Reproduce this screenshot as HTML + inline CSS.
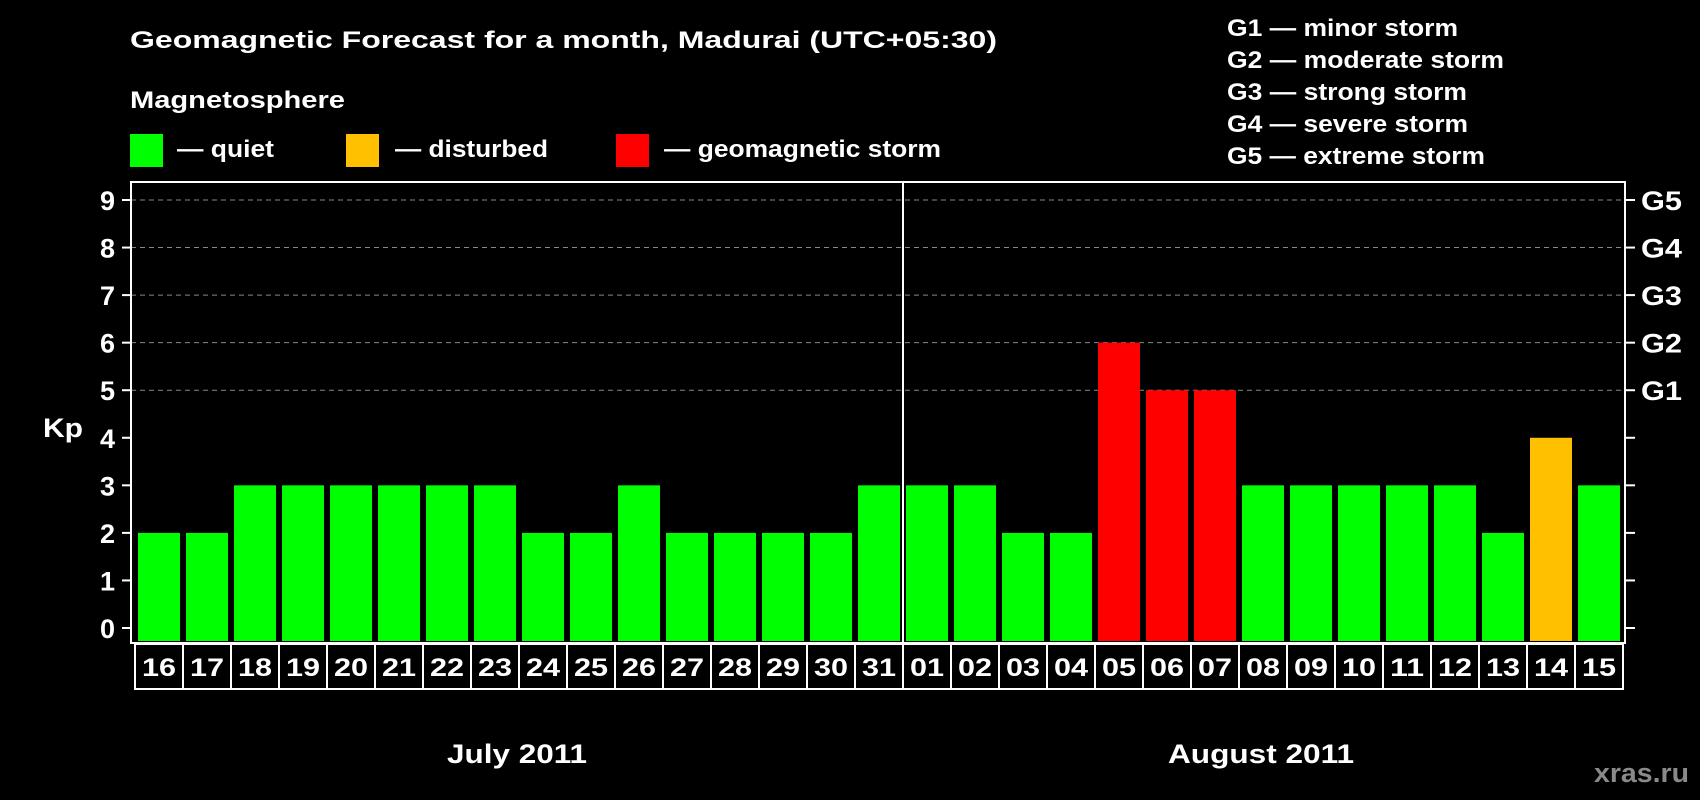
<!DOCTYPE html>
<html><head><meta charset="utf-8"><style>
html,body{margin:0;padding:0;background:#000;}
svg{display:block;}
text{font-family:"Liberation Sans",Arial,sans-serif;font-weight:bold;}
</style></head><body>
<svg id="chart" width="1700" height="800" viewBox="0 0 1700 800">
<text x="130" y="48" fill="#fff" font-size="24" textLength="867" lengthAdjust="spacingAndGlyphs">Geomagnetic Forecast for a month, Madurai (UTC+05:30)</text>
<text x="130" y="108" fill="#fff" font-size="24" textLength="215" lengthAdjust="spacingAndGlyphs">Magnetosphere</text>
<rect x="130" y="134" width="33" height="33" fill="#00ff00"/>
<text x="177" y="157" fill="#fff" font-size="24" textLength="97" lengthAdjust="spacingAndGlyphs">— quiet</text>
<rect x="346" y="134" width="33" height="33" fill="#ffc000"/>
<text x="395" y="157" fill="#fff" font-size="24" textLength="153" lengthAdjust="spacingAndGlyphs">— disturbed</text>
<rect x="616" y="134" width="33" height="33" fill="#ff0000"/>
<text x="664" y="157" fill="#fff" font-size="24" textLength="277" lengthAdjust="spacingAndGlyphs">— geomagnetic storm</text>
<g font-size="24" fill="#fff">
<text x="1227" y="36" textLength="231" lengthAdjust="spacingAndGlyphs">G1 — minor storm</text>
<text x="1227" y="68" textLength="277" lengthAdjust="spacingAndGlyphs">G2 — moderate storm</text>
<text x="1227" y="100" textLength="240" lengthAdjust="spacingAndGlyphs">G3 — strong storm</text>
<text x="1227" y="132" textLength="241" lengthAdjust="spacingAndGlyphs">G4 — severe storm</text>
<text x="1227" y="164" textLength="258" lengthAdjust="spacingAndGlyphs">G5 — extreme storm</text>
</g>
<text x="43" y="437" fill="#fff" font-size="27" textLength="40" lengthAdjust="spacingAndGlyphs">Kp</text>
<g id="grid"></g>
<g id="bars"></g>
<g id="axes"></g>
<text x="447" y="763" fill="#fff" font-size="27" textLength="140" lengthAdjust="spacingAndGlyphs">July 2011</text>
<text x="1168" y="763" fill="#fff" font-size="27" textLength="186" lengthAdjust="spacingAndGlyphs">August 2011</text>
<text x="1594" y="782" fill="#8a8a8a" font-size="27" textLength="95" lengthAdjust="spacingAndGlyphs">xras.ru</text>
</svg>
<script>
const days = ["16","17","18","19","20","21","22","23","24","25","26","27","28","29","30","31","01","02","03","04","05","06","07","08","09","10","11","12","13","14","15"];
const kp = [2,2,3,3,3,3,3,3,2,2,3,2,2,2,2,3,3,3,2,2,6,5,5,3,3,3,3,3,2,4,3];
const yTicks = [0,1,2,3,4,5,6,7,8,9];
const gLabels = ["G1","G2","G3","G4","G5"];
const gLevels = [5,6,7,8,9];

const NS="http://www.w3.org/2000/svg";
const pLeft=131, pRight=1625, pTop=182, pBottom=643;
const cellX0=135, cellW=(1623-135)/days.length;
function yS(v){return 628-(628-200)/9*v;}
function xS(i){return cellX0+i*cellW;}
function mk(tag,attrs,parent){const e=document.createElementNS(NS,tag);for(const k in attrs)e.setAttribute(k,attrs[k]);parent.appendChild(e);return e;}
const grid=document.getElementById('grid'),bars=document.getElementById('bars'),axes=document.getElementById('axes');

gLevels.forEach(v=>{
  const l=mk('line',{x1:pLeft,x2:pRight,y1:yS(v),y2:yS(v),stroke:'#888','stroke-width':1,'stroke-dasharray':'5,4'},grid);
  
  
});
kp.forEach((v,i)=>{
  const c=v>=5?'#ff0000':(v>=4?'#ffc000':'#00ff00');
  const r=mk('rect',{x:xS(i)+3,y:yS(v),width:cellW-6,height:pBottom-2-yS(v),fill:c},bars);
  
  
});
const fr=mk('rect',{x:pLeft,y:pTop,width:pRight-pLeft,height:pBottom-pTop,fill:'none',stroke:'#fff','stroke-width':2},axes);


const dv=mk('line',{x1:xS(16),x2:xS(16),y1:pTop,y2:pBottom+46,stroke:'#fff','stroke-width':2},axes);


yTicks.forEach(v=>{
  mk('line',{x1:pLeft-9,x2:pLeft,y1:yS(v),y2:yS(v),stroke:'#fff','stroke-width':2},axes);
  mk('line',{x1:pRight,x2:pRight+10,y1:yS(v),y2:yS(v),stroke:'#fff','stroke-width':2},axes);
  const t=mk('text',{x:pLeft-16,y:yS(v)+10,fill:'#fff','font-size':27,'text-anchor':'end'},axes);
  t.textContent=v;
  
  
});
gLevels.forEach((v,i)=>{
  const t=mk('text',{x:1641,y:yS(v)+10,fill:'#fff','font-size':27,textLength:41,lengthAdjust:'spacingAndGlyphs'},axes);
  t.textContent=gLabels[i];
  
  
});
days.forEach((d,i)=>{
  const r=mk('rect',{x:xS(i),y:pBottom+1,width:cellW,height:45,fill:'none',stroke:'#fff','stroke-width':2},axes);
  
  
  const t=mk('text',{x:xS(i)+cellW/2,y:pBottom+33,fill:'#fff','font-size':25,'text-anchor':'middle',textLength:34,lengthAdjust:'spacingAndGlyphs'},axes);
  t.textContent=d;
  
  
});
</script>
</body></html>
